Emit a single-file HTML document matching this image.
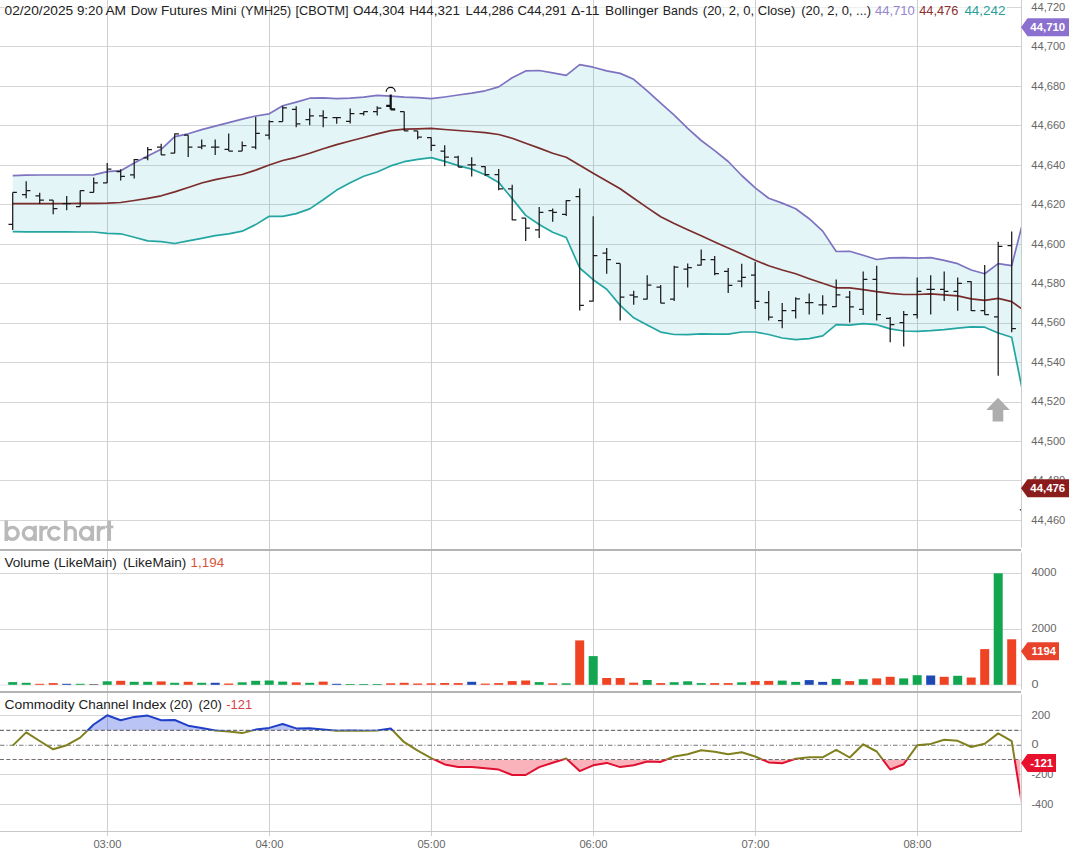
<!DOCTYPE html>
<html><head><meta charset="utf-8"><title>Chart</title>
<style>html,body{margin:0;padding:0;background:#fff;overflow:hidden}body{width:1069px;height:857px;font-family:"Liberation Sans",sans-serif}</style></head>
<body>
<svg width="1069" height="857" viewBox="0 0 1069 857" style="display:block;font-family:'Liberation Sans',sans-serif">
<defs><clipPath id="cp"><rect x="0" y="0" width="1021" height="832"/></clipPath>
<clipPath id="cpU"><rect x="0" y="690" width="1021" height="40.4"/></clipPath>
<clipPath id="cpM"><rect x="0" y="730.4" width="1021" height="29.1"/></clipPath>
<clipPath id="cpL"><rect x="0" y="759.5" width="1020.3" height="72"/></clipPath></defs>
<rect width="1069" height="857" fill="#fff"/>
<line x1="0" y1="7.5" x2="4" y2="7.5" stroke="#d6d6d6" stroke-width="1"/>
<line x1="4" y1="7.5" x2="1007" y2="7.5" stroke="#efefef" stroke-width="1"/>
<line x1="1007" y1="7.5" x2="1021.5" y2="7.5" stroke="#d6d6d6" stroke-width="1"/>
<line x1="0" y1="46.5" x2="1021.5" y2="46.5" stroke="#d6d6d6" stroke-width="1"/>
<line x1="0" y1="86.5" x2="1021.5" y2="86.5" stroke="#d6d6d6" stroke-width="1"/>
<line x1="0" y1="125.5" x2="1021.5" y2="125.5" stroke="#d6d6d6" stroke-width="1"/>
<line x1="0" y1="165.5" x2="1021.5" y2="165.5" stroke="#d6d6d6" stroke-width="1"/>
<line x1="0" y1="204.5" x2="1021.5" y2="204.5" stroke="#d6d6d6" stroke-width="1"/>
<line x1="0" y1="244.5" x2="1021.5" y2="244.5" stroke="#d6d6d6" stroke-width="1"/>
<line x1="0" y1="283.5" x2="1021.5" y2="283.5" stroke="#d6d6d6" stroke-width="1"/>
<line x1="0" y1="323.5" x2="1021.5" y2="323.5" stroke="#d6d6d6" stroke-width="1"/>
<line x1="0" y1="362.5" x2="1021.5" y2="362.5" stroke="#d6d6d6" stroke-width="1"/>
<line x1="0" y1="402.5" x2="1021.5" y2="402.5" stroke="#d6d6d6" stroke-width="1"/>
<line x1="0" y1="441.5" x2="1021.5" y2="441.5" stroke="#d6d6d6" stroke-width="1"/>
<line x1="0" y1="480.5" x2="1021.5" y2="480.5" stroke="#d6d6d6" stroke-width="1"/>
<line x1="0" y1="520.5" x2="1021.5" y2="520.5" stroke="#d6d6d6" stroke-width="1"/>
<line x1="0" y1="685" x2="1021.5" y2="685" stroke="#e4e4e4" stroke-width="1"/>
<line x1="0" y1="573.5" x2="1021.5" y2="573.5" stroke="#d6d6d6" stroke-width="1"/>
<line x1="0" y1="629.5" x2="1021.5" y2="629.5" stroke="#d6d6d6" stroke-width="1"/>
<line x1="0" y1="715.5" x2="1021.5" y2="715.5" stroke="#d6d6d6" stroke-width="1"/>
<line x1="0" y1="774.5" x2="1021.5" y2="774.5" stroke="#d6d6d6" stroke-width="1"/>
<line x1="0" y1="804.5" x2="1021.5" y2="804.5" stroke="#d6d6d6" stroke-width="1"/>
<line x1="107.5" y1="0" x2="107.5" y2="836" stroke="#cfcfcf" stroke-width="1"/>
<line x1="269.5" y1="0" x2="269.5" y2="836" stroke="#cfcfcf" stroke-width="1"/>
<line x1="431.5" y1="0" x2="431.5" y2="836" stroke="#cfcfcf" stroke-width="1"/>
<line x1="593.5" y1="0" x2="593.5" y2="836" stroke="#cfcfcf" stroke-width="1"/>
<line x1="755.5" y1="0" x2="755.5" y2="836" stroke="#cfcfcf" stroke-width="1"/>
<line x1="917.5" y1="0" x2="917.5" y2="836" stroke="#cfcfcf" stroke-width="1"/>
<g clip-path="url(#cp)">
<polygon points="12.7,175.6 26.2,175.2 39.7,175.0 53.2,175.0 66.7,175.0 80.2,175.0 93.7,174.9 107.2,171.7 120.7,170.7 134.2,163.0 147.7,156.0 161.2,149.3 174.7,136.6 188.2,133.8 201.7,129.6 215.2,126.1 228.7,122.6 242.2,119.1 255.7,116.0 269.2,113.8 282.7,105.8 296.2,102.1 309.7,98.2 323.2,97.9 336.7,98.6 350.2,98.2 363.7,97.2 377.2,95.4 390.7,96.2 404.2,97.2 417.7,97.6 431.2,98.7 444.7,97.0 458.2,95.0 471.7,93.1 485.2,90.8 498.7,86.9 512.2,77.7 525.7,70.9 539.2,70.5 552.7,72.9 566.2,75.4 579.7,64.7 593.2,67.2 606.7,70.9 620.2,73.4 633.7,79.3 647.2,90.9 660.7,103.2 674.2,115.2 687.7,128.4 701.2,140.5 714.7,150.6 728.2,161.5 741.7,175.5 755.2,187.9 768.7,198.2 782.2,203.1 795.7,208.7 809.2,218.7 822.7,231.1 836.2,251.5 849.7,251.3 863.2,255.3 876.7,259.5 890.2,257.8 903.7,257.6 917.2,258.1 930.7,257.6 944.2,260.4 957.7,263.7 971.2,270.0 984.7,273.8 998.2,263.6 1011.7,265.7 1025.2,213.0 1025.2,404.3 1011.7,337.3 998.2,333.0 984.7,327.2 971.2,326.8 957.7,328.2 944.2,329.6 930.7,330.6 917.2,331.3 903.7,331.0 890.2,328.9 876.7,324.7 863.2,323.7 849.7,325.1 836.2,324.7 822.7,335.9 809.2,338.7 795.7,339.7 782.2,338.0 768.7,334.5 755.2,332.0 741.7,332.0 728.2,334.1 714.7,334.1 701.2,333.8 687.7,334.6 674.2,334.5 660.7,332.1 647.2,325.1 633.7,317.8 620.2,305.4 606.7,289.3 593.2,279.7 579.7,268.0 566.2,237.5 552.7,232.2 539.2,224.5 525.7,215.4 512.2,198.6 498.7,182.4 485.2,174.7 471.7,169.1 458.2,165.6 444.7,161.4 431.2,157.6 417.7,159.3 404.2,161.7 390.7,165.9 377.2,172.0 363.7,176.3 350.2,182.7 336.7,190.1 323.2,199.8 309.7,208.9 296.2,213.6 282.7,216.3 269.2,216.3 255.7,224.6 242.2,231.2 228.7,233.8 215.2,235.6 201.7,238.3 188.2,240.9 174.7,243.5 161.2,241.7 147.7,240.9 134.2,237.2 120.7,233.8 107.2,233.3 93.7,232.0 80.2,232.0 66.7,231.9 53.2,231.9 39.7,231.8 26.2,231.8 12.7,231.7" fill="#2bb0c0" fill-opacity="0.125"/>
<polyline points="12.7,175.6 26.2,175.2 39.7,175.0 53.2,175.0 66.7,175.0 80.2,175.0 93.7,174.9 107.2,171.7 120.7,170.7 134.2,163.0 147.7,156.0 161.2,149.3 174.7,136.6 188.2,133.8 201.7,129.6 215.2,126.1 228.7,122.6 242.2,119.1 255.7,116.0 269.2,113.8 282.7,105.8 296.2,102.1 309.7,98.2 323.2,97.9 336.7,98.6 350.2,98.2 363.7,97.2 377.2,95.4 390.7,96.2 404.2,97.2 417.7,97.6 431.2,98.7 444.7,97.0 458.2,95.0 471.7,93.1 485.2,90.8 498.7,86.9 512.2,77.7 525.7,70.9 539.2,70.5 552.7,72.9 566.2,75.4 579.7,64.7 593.2,67.2 606.7,70.9 620.2,73.4 633.7,79.3 647.2,90.9 660.7,103.2 674.2,115.2 687.7,128.4 701.2,140.5 714.7,150.6 728.2,161.5 741.7,175.5 755.2,187.9 768.7,198.2 782.2,203.1 795.7,208.7 809.2,218.7 822.7,231.1 836.2,251.5 849.7,251.3 863.2,255.3 876.7,259.5 890.2,257.8 903.7,257.6 917.2,258.1 930.7,257.6 944.2,260.4 957.7,263.7 971.2,270.0 984.7,273.8 998.2,263.6 1011.7,265.7 1025.2,213.0" fill="none" stroke="#7d73c0" stroke-width="1.7" stroke-linejoin="round"/>
<polyline points="12.7,231.7 26.2,231.8 39.7,231.8 53.2,231.9 66.7,231.9 80.2,232.0 93.7,232.0 107.2,233.3 120.7,233.8 134.2,237.2 147.7,240.9 161.2,241.7 174.7,243.5 188.2,240.9 201.7,238.3 215.2,235.6 228.7,233.8 242.2,231.2 255.7,224.6 269.2,216.3 282.7,216.3 296.2,213.6 309.7,208.9 323.2,199.8 336.7,190.1 350.2,182.7 363.7,176.3 377.2,172.0 390.7,165.9 404.2,161.7 417.7,159.3 431.2,157.6 444.7,161.4 458.2,165.6 471.7,169.1 485.2,174.7 498.7,182.4 512.2,198.6 525.7,215.4 539.2,224.5 552.7,232.2 566.2,237.5 579.7,268.0 593.2,279.7 606.7,289.3 620.2,305.4 633.7,317.8 647.2,325.1 660.7,332.1 674.2,334.5 687.7,334.6 701.2,333.8 714.7,334.1 728.2,334.1 741.7,332.0 755.2,332.0 768.7,334.5 782.2,338.0 795.7,339.7 809.2,338.7 822.7,335.9 836.2,324.7 849.7,325.1 863.2,323.7 876.7,324.7 890.2,328.9 903.7,331.0 917.2,331.3 930.7,330.6 944.2,329.6 957.7,328.2 971.2,326.8 984.7,327.2 998.2,333.0 1011.7,337.3 1025.2,404.3" fill="none" stroke="#23a6a1" stroke-width="1.7" stroke-linejoin="round"/>
<polyline points="12.7,203.7 26.2,203.7 39.7,203.7 53.2,203.6 66.7,203.5 80.2,203.4 93.7,203.3 107.2,203.1 120.7,202.5 134.2,200.5 147.7,198.3 161.2,195.8 174.7,191.9 188.2,187.5 201.7,183.0 215.2,179.6 228.7,177.0 242.2,174.5 255.7,170.1 269.2,165.0 282.7,160.5 296.2,157.3 309.7,153.2 323.2,148.7 336.7,144.6 350.2,141.0 363.7,137.5 377.2,133.9 390.7,130.6 404.2,129.2 417.7,128.8 431.2,128.4 444.7,129.5 458.2,130.5 471.7,131.5 485.2,132.6 498.7,134.5 512.2,138.2 525.7,143.2 539.2,148.1 552.7,153.3 566.2,157.2 579.7,165.3 593.2,173.2 606.7,181.0 620.2,188.8 633.7,198.2 647.2,207.6 660.7,216.8 674.2,223.5 687.7,229.8 701.2,235.8 714.7,241.9 728.2,248.0 741.7,254.1 755.2,260.2 768.7,265.8 782.2,270.0 795.7,273.8 809.2,278.7 822.7,283.3 836.2,287.8 849.7,287.8 863.2,289.6 876.7,291.7 890.2,293.4 903.7,294.5 917.2,294.5 930.7,293.8 944.2,294.8 957.7,295.9 971.2,298.8 984.7,300.4 998.2,298.3 1011.7,301.6 1025.2,311.3" fill="none" stroke="#7b2d2d" stroke-width="1.7" stroke-linejoin="round"/>
<path d="M12.7 192.4V229.9M8.5 224.3H12.7M12.7 192.4H16.9M26.2 181.2V198.3M22.0 194.5H26.2M26.2 190.6H30.4M39.7 192.7V203.9M35.5 195.9H39.7M39.7 200.2H43.9M53.2 200.2V214.2M49.0 200.2H53.2M53.2 208.6H57.4M66.7 195.9V210.3M62.5 203.7H66.7M66.7 203.7H70.9M80.2 190.6V206.5M76.0 206.5H80.2M80.2 190.6H84.4M93.7 177.4V192.4M89.5 192.4H93.7M93.7 182.9H97.9M107.2 163.0V182.9M103.0 182.9H107.2M107.2 169.0H111.4M120.7 169.3V180.5M116.5 171.7H120.7M120.7 176.3H124.9M134.2 159.0V178.4M130.0 174.9H134.2M134.2 159.5H138.4M147.7 147.1V160.3M143.5 157.9H147.7M147.7 149.6H151.9M161.2 143.7V154.9M157.0 147.2H161.2M161.2 154.9H165.4M174.7 133.4V153.2M170.5 153.2H174.7M174.7 133.8H178.9M188.2 135.2V157.0M184.0 135.2H188.2M188.2 147.2H192.4M201.7 139.5V149.3M197.5 147.2H201.7M201.7 145.8H205.9M215.2 139.5V154.9M211.0 147.2H215.2M215.2 147.2H219.4M228.7 133.4V151.1M224.5 149.3H228.7M228.7 151.1H232.9M242.2 141.6V151.1M238.0 151.1H242.2M242.2 145.5H246.4M255.7 117.0V149.3M251.5 147.2H255.7M255.7 133.4H259.9M269.2 120.2V139.5M265.0 135.2H269.2M269.2 121.6H273.4M282.7 106.0V121.5M278.5 121.5H282.7M282.7 107.8H286.9M296.2 106.3V127.3M292.0 109.4H296.2M296.2 123.8H300.4M309.7 108.4V125.2M305.5 119.6H309.7M309.7 115.8H313.9M323.2 110.2V127.3M319.0 115.8H323.2M323.2 117.5H327.4M336.7 117.5V123.8M332.5 117.5H336.7M336.7 117.5H340.9M350.2 108.4V123.4M346.0 121.3H350.2M350.2 113.7H354.4M363.7 111.6V115.4M359.5 113.7H363.7M363.7 111.6H367.9M377.2 106.3V115.4M373.0 111.6H377.2M377.2 108.0H381.4M404.2 111.6V130.9M400.0 111.6H404.2M404.2 130.9H408.4M417.7 130.9V139.3M413.5 130.9H417.7M417.7 137.2H421.9M431.2 137.5V150.9M427.0 137.5H431.2M431.2 145.3H435.4M444.7 145.3V166.3M440.5 151.1H444.7M444.7 157.2H448.9M458.2 155.8V167.0M454.0 157.2H458.2M458.2 167.0H462.4M471.7 157.2V176.4M467.5 164.9H471.7M471.7 164.9H475.9M485.2 166.3V176.1M481.0 166.7H485.2M485.2 174.7H489.4M498.7 169.1V190.2M494.5 174.7H498.7M498.7 188.8H502.9M512.2 184.8V220.3M508.0 188.8H512.2M512.2 219.9H516.4M525.7 218.2V241.0M521.5 218.2H525.7M525.7 228.0H529.9M539.2 207.0V237.9M535.0 229.9H539.2M539.2 212.3H543.4M552.7 208.4V221.7M548.5 210.5H552.7M552.7 212.3H556.9M566.2 200.3V216.0M562.0 214.4H566.2M566.2 200.6H570.4M579.7 188.4V310.6M575.5 196.6H579.7M579.7 305.4H583.9M593.2 216.2V301.6M589.0 301.2H593.2M593.2 255.7H597.4M606.7 248.0V273.7M602.5 253.2H606.7M606.7 259.6H610.9M620.2 263.4V320.4M616.0 263.4H620.2M620.2 297.0H624.4M633.7 290.7V304.7M629.5 295.1H633.7M633.7 296.9H637.9M647.2 275.3V299.5M643.0 299.2H647.2M647.2 285.0H651.4M660.7 285.0V303.3M656.5 287.1H660.7M660.7 303.0H664.9M674.2 265.8V301.0M670.0 299.2H674.2M674.2 267.2H678.4M687.7 263.6V287.4M683.5 269.0H687.7M687.7 267.6H691.9M701.2 249.5V265.5M697.0 265.2H701.2M701.2 259.5H705.4M714.7 256.0V275.2M710.5 259.5H714.7M714.7 273.5H718.9M728.2 267.9V293.1M724.0 271.4H728.2M728.2 285.4H732.4M741.7 263.7V287.2M737.5 281.2H741.7M741.7 277.4H745.9M755.2 262.0V308.9M751.0 275.2H755.2M755.2 301.3H759.4M768.7 291.0V320.5M764.5 302.7H768.7M768.7 317.0H772.9M782.2 303.0V328.2M778.0 320.5H782.2M782.2 310.7H786.4M795.7 297.3V318.4M791.5 310.7H795.7M795.7 298.8H799.9M809.2 293.4V314.6M805.0 302.7H809.2M809.2 302.7H813.4M822.7 295.2V314.6M818.5 304.8H822.7M822.7 304.8H826.9M836.2 279.4V306.9M832.0 306.5H836.2M836.2 294.8H840.4M849.7 291.0V322.6M845.5 297.1H849.7M849.7 306.9H853.9M863.2 271.4V314.9M859.0 309.3H863.2M863.2 279.4H867.4M876.7 265.8V320.5M872.5 279.4H876.7M876.7 314.6H880.9M890.2 317.0V342.2M886.0 318.4H890.2M890.2 324.7H894.4M903.7 311.1V346.5M899.5 322.6H903.7M903.7 314.6H907.9M917.2 277.4V318.4M913.0 314.6H917.2M917.2 291.3H921.4M930.7 275.2V314.6M926.5 289.4H930.7M930.7 289.4H934.9M944.2 271.4V300.9M940.0 289.4H944.2M944.2 291.3H948.4M957.7 277.4V310.7M953.5 291.3H957.7M957.7 283.3H961.9M971.2 281.2V311.1M967.0 281.6H971.2M971.2 310.7H975.4M984.7 265.0V314.7M980.5 310.6H984.7M984.7 314.6H988.9M998.2 241.8V375.8M994.0 316.8H998.2M998.2 246.4H1002.4M1011.7 231.6V332.2M1007.5 245.7H1011.7M1011.7 328.6H1015.9" stroke="#1a1a1a" stroke-width="1.25" fill="none"/>
<path d="M390.7 94.4V109.4M386.2 105.9H390.7M390.7 109.4H395.2" stroke="#111" stroke-width="2.2" fill="none"/>
<path d="M386.2 91.8A4.5 4.5 0 0 1 395.2 91.8" stroke="#111" stroke-width="1.2" fill="none"/>
<rect x="1019.9" y="509" width="1.2" height="1.6" fill="#444"/>
<polygon points="998,397.8 1009.8,410 1003.3,410 1003.3,421.6 992.6,421.6 992.6,410 986.2,410" fill="#adadad"/>
<rect x="8.2" y="682.1" width="9" height="2.7" fill="#12a650"/>
<rect x="21.7" y="682.8" width="9" height="2.0" fill="#12a650"/>
<rect x="35.2" y="683.8" width="9" height="1.0" fill="#ee4424"/>
<rect x="48.7" y="683.1" width="9" height="1.7" fill="#ee4424"/>
<rect x="62.2" y="683.8" width="9" height="1.0" fill="#1e48b4"/>
<rect x="75.7" y="683.8" width="9" height="1.0" fill="#12a650"/>
<rect x="89.2" y="684.1" width="9" height="0.7" fill="#555"/>
<rect x="102.7" y="681.3" width="9" height="3.5" fill="#12a650"/>
<rect x="116.2" y="680.8" width="9" height="4.0" fill="#ee4424"/>
<rect x="129.7" y="681.8" width="9" height="3.0" fill="#12a650"/>
<rect x="143.2" y="681.8" width="9" height="3.0" fill="#12a650"/>
<rect x="156.7" y="681.4" width="9" height="3.4" fill="#ee4424"/>
<rect x="170.2" y="682.8" width="9" height="2.0" fill="#12a650"/>
<rect x="183.7" y="681.8" width="9" height="3.0" fill="#ee4424"/>
<rect x="197.2" y="682.8" width="9" height="2.0" fill="#12a650"/>
<rect x="210.7" y="682.8" width="9" height="2.0" fill="#1e48b4"/>
<rect x="224.2" y="683.5" width="9" height="1.3" fill="#ee4424"/>
<rect x="237.7" y="682.3" width="9" height="2.5" fill="#12a650"/>
<rect x="251.2" y="680.8" width="9" height="4.0" fill="#12a650"/>
<rect x="264.7" y="680.5" width="9" height="4.3" fill="#12a650"/>
<rect x="278.2" y="681.6" width="9" height="3.2" fill="#12a650"/>
<rect x="291.7" y="682.4" width="9" height="2.4" fill="#ee4424"/>
<rect x="305.2" y="682.8" width="9" height="2.0" fill="#12a650"/>
<rect x="318.7" y="681.6" width="9" height="3.2" fill="#ee4424"/>
<rect x="332.2" y="683.8" width="9" height="1.0" fill="#1e48b4"/>
<rect x="345.7" y="684.0" width="9" height="0.8" fill="#12a650"/>
<rect x="359.2" y="684.0" width="9" height="0.8" fill="#12a650"/>
<rect x="372.7" y="684.0" width="9" height="0.8" fill="#12a650"/>
<rect x="386.2" y="683.3" width="9" height="1.5" fill="#ee4424"/>
<rect x="399.7" y="682.8" width="9" height="2.0" fill="#ee4424"/>
<rect x="413.2" y="683.5" width="9" height="1.3" fill="#ee4424"/>
<rect x="426.7" y="683.3" width="9" height="1.5" fill="#ee4424"/>
<rect x="440.2" y="683.0" width="9" height="1.8" fill="#ee4424"/>
<rect x="453.7" y="683.1" width="9" height="1.7" fill="#ee4424"/>
<rect x="467.2" y="681.8" width="9" height="3.0" fill="#1e48b4"/>
<rect x="480.7" y="683.6" width="9" height="1.2" fill="#ee4424"/>
<rect x="494.2" y="683.1" width="9" height="1.7" fill="#ee4424"/>
<rect x="507.7" y="681.1" width="9" height="3.7" fill="#ee4424"/>
<rect x="521.2" y="680.5" width="9" height="4.3" fill="#ee4424"/>
<rect x="534.7" y="682.1" width="9" height="2.7" fill="#12a650"/>
<rect x="548.2" y="683.3" width="9" height="1.5" fill="#ee4424"/>
<rect x="561.7" y="683.3" width="9" height="1.5" fill="#12a650"/>
<rect x="575.2" y="640.4" width="9" height="44.4" fill="#ee4424"/>
<rect x="588.7" y="656.1" width="9" height="28.7" fill="#12a650"/>
<rect x="602.2" y="678.0" width="9" height="6.8" fill="#ee4424"/>
<rect x="615.7" y="678.0" width="9" height="6.8" fill="#ee4424"/>
<rect x="629.2" y="682.7" width="9" height="2.1" fill="#ee4424"/>
<rect x="642.7" y="680.0" width="9" height="4.8" fill="#12a650"/>
<rect x="656.2" y="683.1" width="9" height="1.7" fill="#ee4424"/>
<rect x="669.7" y="682.2" width="9" height="2.6" fill="#12a650"/>
<rect x="683.2" y="681.3" width="9" height="3.5" fill="#12a650"/>
<rect x="696.7" y="683.1" width="9" height="1.7" fill="#12a650"/>
<rect x="710.2" y="683.1" width="9" height="1.7" fill="#ee4424"/>
<rect x="723.7" y="683.1" width="9" height="1.7" fill="#ee4424"/>
<rect x="737.2" y="682.3" width="9" height="2.5" fill="#12a650"/>
<rect x="750.7" y="681.1" width="9" height="3.7" fill="#ee4424"/>
<rect x="764.2" y="680.9" width="9" height="3.9" fill="#ee4424"/>
<rect x="777.7" y="680.6" width="9" height="4.2" fill="#12a650"/>
<rect x="791.2" y="681.9" width="9" height="2.9" fill="#12a650"/>
<rect x="804.7" y="680.1" width="9" height="4.7" fill="#1e48b4"/>
<rect x="818.2" y="681.9" width="9" height="2.9" fill="#1e48b4"/>
<rect x="831.7" y="678.9" width="9" height="5.9" fill="#12a650"/>
<rect x="845.2" y="681.1" width="9" height="3.7" fill="#ee4424"/>
<rect x="858.7" y="679.2" width="9" height="5.6" fill="#12a650"/>
<rect x="872.2" y="678.4" width="9" height="6.4" fill="#ee4424"/>
<rect x="885.7" y="676.8" width="9" height="8.0" fill="#ee4424"/>
<rect x="899.2" y="678.4" width="9" height="6.4" fill="#12a650"/>
<rect x="912.7" y="675.2" width="9" height="9.6" fill="#12a650"/>
<rect x="926.2" y="675.5" width="9" height="9.3" fill="#1e48b4"/>
<rect x="939.7" y="676.8" width="9" height="8.0" fill="#ee4424"/>
<rect x="953.2" y="675.8" width="9" height="9.0" fill="#12a650"/>
<rect x="966.7" y="677.5" width="9" height="7.3" fill="#ee4424"/>
<rect x="980.2" y="649.1" width="9" height="35.7" fill="#ee4424"/>
<rect x="993.7" y="573.3" width="9" height="111.5" fill="#12a650"/>
<rect x="1007.2" y="639.3" width="9" height="45.5" fill="#ee4424"/>
<polygon clip-path="url(#cpU)" points="12.7,730.4 12.7,745.6 26.2,732.4 39.7,741.0 53.2,749.3 66.7,745.2 80.2,737.6 93.7,724.5 107.2,715.3 120.7,720.3 134.2,716.9 147.7,715.6 161.2,720.3 174.7,720.0 188.2,725.7 201.7,727.9 215.2,730.4 228.7,731.6 242.2,733.1 255.7,729.6 269.2,727.9 282.7,724.0 296.2,728.4 309.7,728.2 323.2,729.6 336.7,730.7 350.2,730.5 363.7,730.7 377.2,730.5 390.7,728.4 404.2,742.2 417.7,750.6 431.2,758.2 444.7,764.4 458.2,767.1 471.7,766.9 485.2,768.3 498.7,769.6 512.2,775.0 525.7,775.0 539.2,767.1 552.7,762.7 566.2,758.5 579.7,771.1 593.2,765.3 606.7,762.9 620.2,767.1 633.7,765.3 647.2,761.5 660.7,761.9 674.2,756.5 687.7,754.3 701.2,750.3 714.7,751.8 728.2,754.3 741.7,752.3 755.2,756.5 768.7,762.4 782.2,763.2 795.7,758.7 809.2,757.3 822.7,757.3 836.2,749.8 849.7,757.5 863.2,744.3 876.7,751.5 890.2,769.5 903.7,764.2 917.2,745.3 930.7,743.9 944.2,739.8 957.7,740.8 971.2,747.0 984.7,743.7 998.2,733.4 1011.7,741.2 1025.2,824.5 1025.2,730.4" fill="#3050e0" fill-opacity="0.33"/>
<polygon clip-path="url(#cpL)" points="12.7,759.5 12.7,745.6 26.2,732.4 39.7,741.0 53.2,749.3 66.7,745.2 80.2,737.6 93.7,724.5 107.2,715.3 120.7,720.3 134.2,716.9 147.7,715.6 161.2,720.3 174.7,720.0 188.2,725.7 201.7,727.9 215.2,730.4 228.7,731.6 242.2,733.1 255.7,729.6 269.2,727.9 282.7,724.0 296.2,728.4 309.7,728.2 323.2,729.6 336.7,730.7 350.2,730.5 363.7,730.7 377.2,730.5 390.7,728.4 404.2,742.2 417.7,750.6 431.2,758.2 444.7,764.4 458.2,767.1 471.7,766.9 485.2,768.3 498.7,769.6 512.2,775.0 525.7,775.0 539.2,767.1 552.7,762.7 566.2,758.5 579.7,771.1 593.2,765.3 606.7,762.9 620.2,767.1 633.7,765.3 647.2,761.5 660.7,761.9 674.2,756.5 687.7,754.3 701.2,750.3 714.7,751.8 728.2,754.3 741.7,752.3 755.2,756.5 768.7,762.4 782.2,763.2 795.7,758.7 809.2,757.3 822.7,757.3 836.2,749.8 849.7,757.5 863.2,744.3 876.7,751.5 890.2,769.5 903.7,764.2 917.2,745.3 930.7,743.9 944.2,739.8 957.7,740.8 971.2,747.0 984.7,743.7 998.2,733.4 1011.7,741.2 1025.2,824.5 1025.2,759.5" fill="#f01830" fill-opacity="0.33"/>
<line x1="0" y1="730.4" x2="1021.5" y2="730.4" stroke="#707070" stroke-width="1.2" stroke-dasharray="4 2.3"/>
<line x1="0" y1="759.5" x2="1021.5" y2="759.5" stroke="#707070" stroke-width="1.2" stroke-dasharray="4 2.3"/>
<line x1="0" y1="745.2" x2="1021.5" y2="745.2" stroke="#777" stroke-width="1.1" stroke-dasharray="4.5 2 1 2"/>
<polyline clip-path="url(#cpM)" points="12.7,745.6 26.2,732.4 39.7,741.0 53.2,749.3 66.7,745.2 80.2,737.6 93.7,724.5 107.2,715.3 120.7,720.3 134.2,716.9 147.7,715.6 161.2,720.3 174.7,720.0 188.2,725.7 201.7,727.9 215.2,730.4 228.7,731.6 242.2,733.1 255.7,729.6 269.2,727.9 282.7,724.0 296.2,728.4 309.7,728.2 323.2,729.6 336.7,730.7 350.2,730.5 363.7,730.7 377.2,730.5 390.7,728.4 404.2,742.2 417.7,750.6 431.2,758.2 444.7,764.4 458.2,767.1 471.7,766.9 485.2,768.3 498.7,769.6 512.2,775.0 525.7,775.0 539.2,767.1 552.7,762.7 566.2,758.5 579.7,771.1 593.2,765.3 606.7,762.9 620.2,767.1 633.7,765.3 647.2,761.5 660.7,761.9 674.2,756.5 687.7,754.3 701.2,750.3 714.7,751.8 728.2,754.3 741.7,752.3 755.2,756.5 768.7,762.4 782.2,763.2 795.7,758.7 809.2,757.3 822.7,757.3 836.2,749.8 849.7,757.5 863.2,744.3 876.7,751.5 890.2,769.5 903.7,764.2 917.2,745.3 930.7,743.9 944.2,739.8 957.7,740.8 971.2,747.0 984.7,743.7 998.2,733.4 1011.7,741.2 1025.2,824.5" fill="none" stroke="#80801e" stroke-width="2" stroke-linejoin="round"/>
<polyline clip-path="url(#cpU)" points="12.7,745.6 26.2,732.4 39.7,741.0 53.2,749.3 66.7,745.2 80.2,737.6 93.7,724.5 107.2,715.3 120.7,720.3 134.2,716.9 147.7,715.6 161.2,720.3 174.7,720.0 188.2,725.7 201.7,727.9 215.2,730.4 228.7,731.6 242.2,733.1 255.7,729.6 269.2,727.9 282.7,724.0 296.2,728.4 309.7,728.2 323.2,729.6 336.7,730.7 350.2,730.5 363.7,730.7 377.2,730.5 390.7,728.4 404.2,742.2 417.7,750.6 431.2,758.2 444.7,764.4 458.2,767.1 471.7,766.9 485.2,768.3 498.7,769.6 512.2,775.0 525.7,775.0 539.2,767.1 552.7,762.7 566.2,758.5 579.7,771.1 593.2,765.3 606.7,762.9 620.2,767.1 633.7,765.3 647.2,761.5 660.7,761.9 674.2,756.5 687.7,754.3 701.2,750.3 714.7,751.8 728.2,754.3 741.7,752.3 755.2,756.5 768.7,762.4 782.2,763.2 795.7,758.7 809.2,757.3 822.7,757.3 836.2,749.8 849.7,757.5 863.2,744.3 876.7,751.5 890.2,769.5 903.7,764.2 917.2,745.3 930.7,743.9 944.2,739.8 957.7,740.8 971.2,747.0 984.7,743.7 998.2,733.4 1011.7,741.2 1025.2,824.5" fill="none" stroke="#2040c8" stroke-width="2" stroke-linejoin="round"/>
<polyline clip-path="url(#cpL)" points="12.7,745.6 26.2,732.4 39.7,741.0 53.2,749.3 66.7,745.2 80.2,737.6 93.7,724.5 107.2,715.3 120.7,720.3 134.2,716.9 147.7,715.6 161.2,720.3 174.7,720.0 188.2,725.7 201.7,727.9 215.2,730.4 228.7,731.6 242.2,733.1 255.7,729.6 269.2,727.9 282.7,724.0 296.2,728.4 309.7,728.2 323.2,729.6 336.7,730.7 350.2,730.5 363.7,730.7 377.2,730.5 390.7,728.4 404.2,742.2 417.7,750.6 431.2,758.2 444.7,764.4 458.2,767.1 471.7,766.9 485.2,768.3 498.7,769.6 512.2,775.0 525.7,775.0 539.2,767.1 552.7,762.7 566.2,758.5 579.7,771.1 593.2,765.3 606.7,762.9 620.2,767.1 633.7,765.3 647.2,761.5 660.7,761.9 674.2,756.5 687.7,754.3 701.2,750.3 714.7,751.8 728.2,754.3 741.7,752.3 755.2,756.5 768.7,762.4 782.2,763.2 795.7,758.7 809.2,757.3 822.7,757.3 836.2,749.8 849.7,757.5 863.2,744.3 876.7,751.5 890.2,769.5 903.7,764.2 917.2,745.3 930.7,743.9 944.2,739.8 957.7,740.8 971.2,747.0 984.7,743.7 998.2,733.4 1011.7,741.2 1025.2,824.5" fill="none" stroke="#e01030" stroke-width="2" stroke-linejoin="round"/>
</g>
<rect x="0" y="549" width="1021.0" height="2" fill="#b4b4b4"/>
<rect x="0" y="691" width="1021.0" height="2" fill="#b4b4b4"/>
<line x1="1021.5" y1="0" x2="1021.5" y2="547.5" stroke="#cdcdcd" stroke-width="1"/>
<line x1="1021.5" y1="552.7" x2="1021.5" y2="689.5" stroke="#cdcdcd" stroke-width="1"/>
<line x1="1021.5" y1="694.7" x2="1021.5" y2="832" stroke="#cdcdcd" stroke-width="1"/>
<line x1="0" y1="831.5" x2="1022" y2="831.5" stroke="#c8c8c8" stroke-width="1"/>
<text x="4.5" y="15.0" font-size="12.6" font-weight="normal" fill="#222" textLength="68.7" lengthAdjust="spacingAndGlyphs">02/20/2025</text>
<text x="76.9" y="15.0" font-size="12.6" font-weight="normal" fill="#222" textLength="26.0" lengthAdjust="spacingAndGlyphs">9:20</text>
<text x="105.4" y="15.0" font-size="12.6" font-weight="normal" fill="#222" textLength="20.7" lengthAdjust="spacingAndGlyphs">AM</text>
<text x="130.7" y="15.0" font-size="12.6" font-weight="normal" fill="#222" textLength="26.4" lengthAdjust="spacingAndGlyphs">Dow</text>
<text x="161.0" y="15.0" font-size="12.6" font-weight="normal" fill="#222" textLength="46.2" lengthAdjust="spacingAndGlyphs">Futures</text>
<text x="211.0" y="15.0" font-size="12.6" font-weight="normal" fill="#222" textLength="25.6" lengthAdjust="spacingAndGlyphs">Mini</text>
<text x="240.8" y="15.0" font-size="12.6" font-weight="normal" fill="#222" textLength="50.4" lengthAdjust="spacingAndGlyphs">(YMH25)</text>
<text x="295.6" y="15.0" font-size="12.6" font-weight="normal" fill="#222" textLength="52.9" lengthAdjust="spacingAndGlyphs">[CBOTM]</text>
<text x="353.1" y="15.0" font-size="12.6" font-weight="normal" fill="#222" textLength="51.7" lengthAdjust="spacingAndGlyphs">O44,304</text>
<text x="409.2" y="15.0" font-size="12.6" font-weight="normal" fill="#222" textLength="50.7" lengthAdjust="spacingAndGlyphs">H44,321</text>
<text x="465.6" y="15.0" font-size="12.6" font-weight="normal" fill="#222" textLength="48.0" lengthAdjust="spacingAndGlyphs">L44,286</text>
<text x="517.5" y="15.0" font-size="12.6" font-weight="normal" fill="#222" textLength="49.2" lengthAdjust="spacingAndGlyphs">C44,291</text>
<text x="571.0" y="15.0" font-size="12.6" font-weight="normal" fill="#222" textLength="28.5" lengthAdjust="spacingAndGlyphs">Δ-11</text>
<text x="605.1" y="15.0" font-size="12.6" font-weight="normal" fill="#222" textLength="53.2" lengthAdjust="spacingAndGlyphs">Bollinger</text>
<text x="662.7" y="15.0" font-size="12.6" font-weight="normal" fill="#222" textLength="35.3" lengthAdjust="spacingAndGlyphs">Bands</text>
<text x="702.8" y="15.0" font-size="12.6" font-weight="normal" fill="#222" textLength="92.6" lengthAdjust="spacingAndGlyphs">(20, 2, 0, Close)</text>
<text x="801.3" y="15.0" font-size="12.6" font-weight="normal" fill="#222" textLength="69.9" lengthAdjust="spacingAndGlyphs">(20, 2, 0, ...)</text>
<text x="875.0" y="15.0" font-size="12.6" font-weight="normal" fill="#9585cf" textLength="39.8" lengthAdjust="spacingAndGlyphs">44,710</text>
<text x="919.2" y="15.0" font-size="12.6" font-weight="normal" fill="#8c2f2f" textLength="39.1" lengthAdjust="spacingAndGlyphs">44,476</text>
<text x="964.4" y="15.0" font-size="12.6" font-weight="normal" fill="#2a9f9a" textLength="41.0" lengthAdjust="spacingAndGlyphs">44,242</text>
<path d="M6.2 520.6V540.9 M18.2 533.3A5.9 5.9 0 1 1 6.4 533.3A5.9 5.9 0 1 1 18.2 533.3Z M35.1 533.3A5.9 5.9 0 1 1 23.3 533.3A5.9 5.9 0 1 1 35.1 533.3Z M35.15 525.7V540.9 M41 525.7V540.9 M41 533C41 528.8 43.8 527.1 47.7 527.7 M59.5 529.9A5.95 5.95 0 1 0 59.5 536.7 M65.7 520.6V540.9 M65.7 532.2a4.75 4.8 0 0 1 9.5 0V540.9 M92.2 533.3A5.9 5.9 0 1 1 80.4 533.3A5.9 5.9 0 1 1 92.2 533.3Z M92.4 525.7V540.9 M98.45 525.7V540.9 M98.45 533C98.45 528.8 101.2 527.1 105.1 527.7 " fill="none" stroke="#b9b9b9" stroke-width="3.4"/>
<path d="M109.15 520.6V540.9" fill="none" stroke="#b9b9b9" stroke-width="3.8"/><path d="M105.5 526.9H113.4" fill="none" stroke="#b9b9b9" stroke-width="2.7"/>
<text x="4.4" y="566.8" font-size="12.6" font-weight="normal" fill="#222" textLength="45.4" lengthAdjust="spacingAndGlyphs">Volume</text>
<text x="53.7" y="566.8" font-size="12.6" font-weight="normal" fill="#222" textLength="63.1" lengthAdjust="spacingAndGlyphs">(LikeMain)</text>
<text x="123.1" y="566.8" font-size="12.6" font-weight="normal" fill="#222" textLength="63.1" lengthAdjust="spacingAndGlyphs">(LikeMain)</text>
<text x="190.6" y="566.8" font-size="12.6" font-weight="normal" fill="#d4553c" textLength="33.5" lengthAdjust="spacingAndGlyphs">1,194</text>
<text x="4.4" y="708.9" font-size="12.6" font-weight="normal" fill="#222" textLength="70.2" lengthAdjust="spacingAndGlyphs">Commodity</text>
<text x="78.5" y="708.9" font-size="12.6" font-weight="normal" fill="#222" textLength="50.1" lengthAdjust="spacingAndGlyphs">Channel</text>
<text x="131.9" y="708.9" font-size="12.6" font-weight="normal" fill="#222" textLength="34.5" lengthAdjust="spacingAndGlyphs">Index</text>
<text x="169.4" y="708.9" font-size="12.6" font-weight="normal" fill="#222" textLength="23.1" lengthAdjust="spacingAndGlyphs">(20)</text>
<text x="198.4" y="708.9" font-size="12.6" font-weight="normal" fill="#222" textLength="23.5" lengthAdjust="spacingAndGlyphs">(20)</text>
<text x="226.3" y="708.9" font-size="12.6" font-weight="normal" fill="#d8404a" textLength="25.9" lengthAdjust="spacingAndGlyphs">-121</text>
<text x="1031.3" y="10.8" font-size="11" font-weight="normal" fill="#666" textLength="34.0" lengthAdjust="spacingAndGlyphs">44,720</text>
<text x="1031.3" y="50.2" font-size="11" font-weight="normal" fill="#666" textLength="34.0" lengthAdjust="spacingAndGlyphs">44,700</text>
<text x="1031.3" y="89.7" font-size="11" font-weight="normal" fill="#666" textLength="34.0" lengthAdjust="spacingAndGlyphs">44,680</text>
<text x="1031.3" y="129.2" font-size="11" font-weight="normal" fill="#666" textLength="34.0" lengthAdjust="spacingAndGlyphs">44,660</text>
<text x="1031.3" y="168.6" font-size="11" font-weight="normal" fill="#666" textLength="34.0" lengthAdjust="spacingAndGlyphs">44,640</text>
<text x="1031.3" y="208.1" font-size="11" font-weight="normal" fill="#666" textLength="34.0" lengthAdjust="spacingAndGlyphs">44,620</text>
<text x="1031.3" y="247.5" font-size="11" font-weight="normal" fill="#666" textLength="34.0" lengthAdjust="spacingAndGlyphs">44,600</text>
<text x="1031.3" y="287.0" font-size="11" font-weight="normal" fill="#666" textLength="34.0" lengthAdjust="spacingAndGlyphs">44,580</text>
<text x="1031.3" y="326.4" font-size="11" font-weight="normal" fill="#666" textLength="34.0" lengthAdjust="spacingAndGlyphs">44,560</text>
<text x="1031.3" y="365.9" font-size="11" font-weight="normal" fill="#666" textLength="34.0" lengthAdjust="spacingAndGlyphs">44,540</text>
<text x="1031.3" y="405.3" font-size="11" font-weight="normal" fill="#666" textLength="34.0" lengthAdjust="spacingAndGlyphs">44,520</text>
<text x="1031.3" y="444.8" font-size="11" font-weight="normal" fill="#666" textLength="34.0" lengthAdjust="spacingAndGlyphs">44,500</text>
<text x="1031.3" y="484.2" font-size="11" font-weight="normal" fill="#666" textLength="34.0" lengthAdjust="spacingAndGlyphs">44,480</text>
<text x="1031.3" y="523.6" font-size="11" font-weight="normal" fill="#666" textLength="34.0" lengthAdjust="spacingAndGlyphs">44,460</text>
<text x="1031.5" y="576.4" font-size="11" font-weight="normal" fill="#666" textLength="25.0" lengthAdjust="spacingAndGlyphs">4000</text>
<text x="1031.5" y="632.4" font-size="11" font-weight="normal" fill="#666" textLength="25.0" lengthAdjust="spacingAndGlyphs">2000</text>
<text x="1031.5" y="688.1" font-size="11" font-weight="normal" fill="#666" textLength="7.0" lengthAdjust="spacingAndGlyphs">0</text>
<text x="1031.5" y="718.7" font-size="11" font-weight="normal" fill="#666" textLength="18.8" lengthAdjust="spacingAndGlyphs">200</text>
<text x="1031.5" y="748.2" font-size="11" font-weight="normal" fill="#666" textLength="7.0" lengthAdjust="spacingAndGlyphs">0</text>
<text x="1031.5" y="777.7" font-size="11" font-weight="normal" fill="#666" textLength="21.8" lengthAdjust="spacingAndGlyphs">-200</text>
<text x="1031.5" y="807.6" font-size="11" font-weight="normal" fill="#666" textLength="21.8" lengthAdjust="spacingAndGlyphs">-400</text>
<text x="93.4" y="847.8" font-size="11" font-weight="normal" fill="#666" textLength="28.0" lengthAdjust="spacingAndGlyphs">03:00</text>
<text x="255.4" y="847.8" font-size="11" font-weight="normal" fill="#666" textLength="28.0" lengthAdjust="spacingAndGlyphs">04:00</text>
<text x="417.4" y="847.8" font-size="11" font-weight="normal" fill="#666" textLength="28.0" lengthAdjust="spacingAndGlyphs">05:00</text>
<text x="579.4" y="847.8" font-size="11" font-weight="normal" fill="#666" textLength="28.0" lengthAdjust="spacingAndGlyphs">06:00</text>
<text x="741.4" y="847.8" font-size="11" font-weight="normal" fill="#666" textLength="28.0" lengthAdjust="spacingAndGlyphs">07:00</text>
<text x="903.4" y="847.8" font-size="11" font-weight="normal" fill="#666" textLength="28.0" lengthAdjust="spacingAndGlyphs">08:00</text>
<polygon points="1021,27.2 1027.5,18.2 1069,18.2 1069,36.2 1027.5,36.2" fill="#8b70d0"/>
<text x="1030.3" y="30.7" font-size="11" font-weight="bold" fill="#fff" textLength="34.9" lengthAdjust="spacingAndGlyphs">44,710</text>
<polygon points="1021,488.3 1027.5,479.3 1069,479.3 1069,497.3 1027.5,497.3" fill="#8b1c1c"/>
<text x="1030.3" y="491.8" font-size="11" font-weight="bold" fill="#fff" textLength="34.9" lengthAdjust="spacingAndGlyphs">44,476</text>
<polygon points="1021,651.2 1027.5,642.2 1059,642.2 1059,660.2 1027.5,660.2" fill="#e8432a"/>
<text x="1031.6" y="654.7" font-size="11" font-weight="bold" fill="#fff" textLength="24.3" lengthAdjust="spacingAndGlyphs">1194</text>
<polygon points="1021,763 1027.5,754 1056,754 1056,772 1027.5,772" fill="#e8112d"/>
<text x="1030.3" y="766.5" font-size="11" font-weight="bold" fill="#fff" textLength="22.9" lengthAdjust="spacingAndGlyphs">-121</text>
</svg>
</body></html>
